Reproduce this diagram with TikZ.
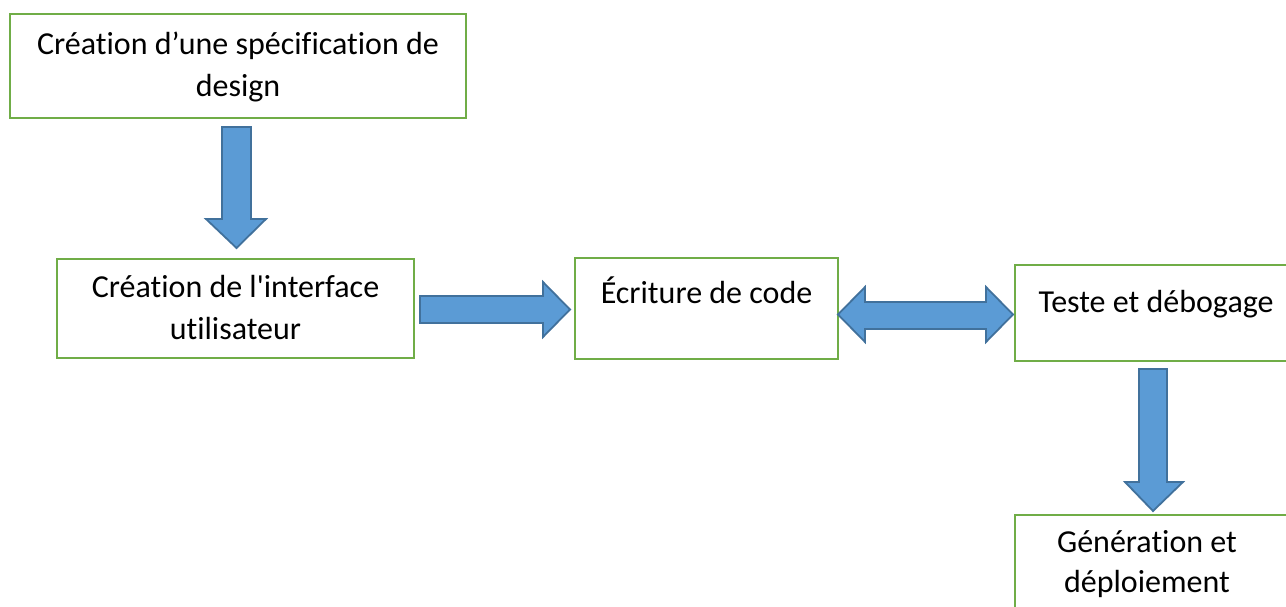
\documentclass[tikz,border=0pt]{standalone}
\usepackage{fontspec}
\setmainfont{Carlito}[Ligatures={TeXOff,NoCommon}]
\definecolor{boxgreen}{RGB}{112,173,71}
\definecolor{arrowfill}{RGB}{91,155,213}
\definecolor{arrowline}{RGB}{65,113,156}
\begin{document}
\begin{tikzpicture}[x=1pt,y=-1pt,
  box/.style={draw=boxgreen, line width=2.5pt, rectangle, inner sep=0pt},
  barrow/.style={fill=arrowfill, draw=arrowline, line width=1.8pt, line join=miter},
  txt/.style={font=\fontsize{32}{42}\selectfont, anchor=base, inner sep=0pt, text=black}]
\useasboundingbox (0,0) rectangle (1286,607);
\clip (0,0) rectangle (1286,607);
\fill[white] (0,0) rectangle (1286,607);
% boxes
\node[box, minimum width=456pt, minimum height=104pt] (b1) at (238,66) {};
\node[box, minimum width=357pt, minimum height=99pt] (b2) at (235.5,308.5) {};
\node[box, minimum width=263pt, minimum height=101pt] (b3) at (706.5,308.5) {};
\node[box, minimum width=285pt, minimum height=96pt] (b4) at (1157.5,313) {};
\node[box, minimum width=285pt, minimum height=105pt] (b5) at (1157.5,567.5) {};
% texts
\node[txt] (t1a) at (238,55) {Création d’une spécification de};
\node[txt] (t1b) at (238,97) {design};
\node[txt] (t2a) at (235.5,297) {Création de l'interface};
\node[txt] (t2b) at (235.5,339) {utilisateur};
\node[txt] (t3) at (706.5,303) {Écriture de code};
\node[txt] (t4) at (1156,312) {Teste et débogage};
\node[txt] (t5a) at (1147,552) {Génération et};
\node[txt] (t5b) at (1147,592) {déploiement};
% block arrows
\draw[barrow] (222,127) -- (251,127) -- (251,219) -- (266,219) -- (236.5,248)
  -- (206,219) -- (222,219) -- cycle;
\draw[barrow] (420,296) -- (543,296) -- (543,282) -- (570,309.5) -- (543,337)
  -- (543,323) -- (420,323) -- cycle;
\draw[barrow] (838,314.5) -- (865,287) -- (865,302) -- (986,302) -- (986,287)
  -- (1013,314.5) -- (986,342) -- (986,329) -- (865,329) -- (865,342) -- cycle;
\draw[barrow] (1139,369) -- (1167,369) -- (1167,482) -- (1183,482) -- (1153,511)
  -- (1125,482) -- (1139,482) -- cycle;
\end{tikzpicture}
\end{document}
